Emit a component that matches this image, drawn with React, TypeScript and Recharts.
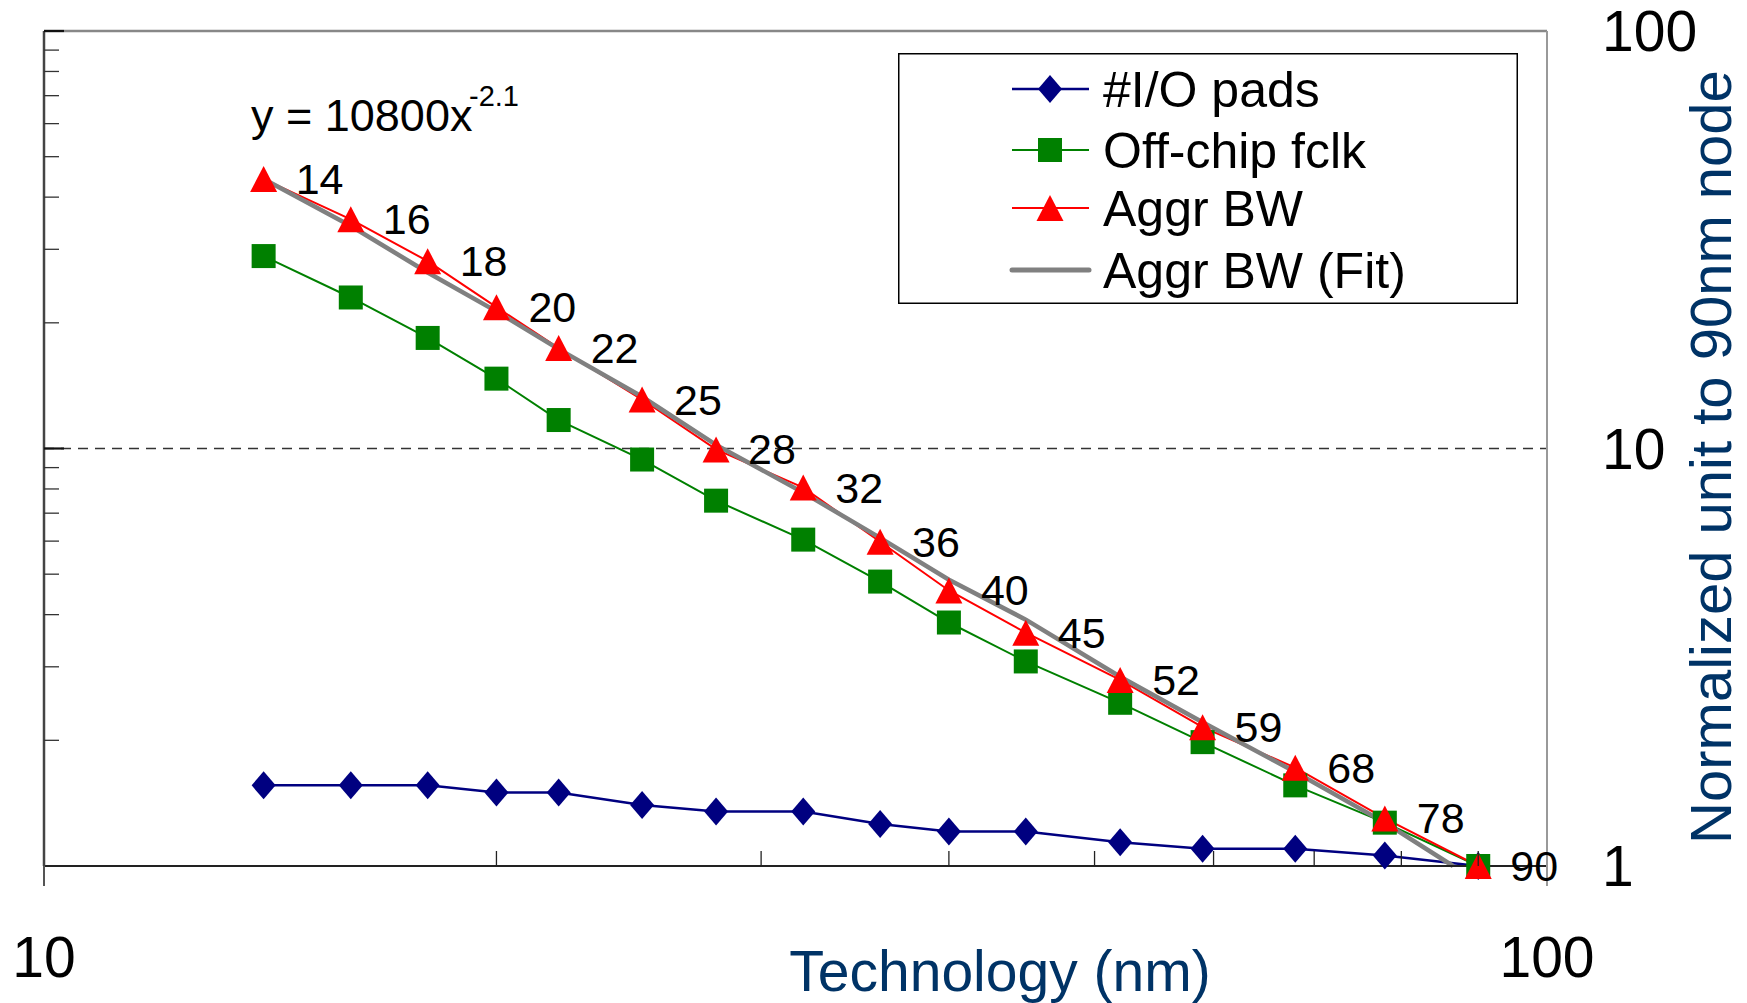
import { Legend, Line, LineChart, LabelList, ReferenceLine, XAxis, YAxis } from "recharts";

const FONT = "'Liberation Sans', Arial, Helvetica, sans-serif";

// technology nodes (nm)
const NODES = [14, 16, 18, 20, 22, 25, 28, 32, 36, 40, 45, 52, 59, 68, 78, 90];
const IO_PADS = [1.56, 1.56, 1.56, 1.5, 1.5, 1.4, 1.35, 1.35, 1.26, 1.21, 1.21, 1.14, 1.1, 1.1, 1.06, 1.0];
const OFFCHIP_FCLK = [28.9, 23.0, 18.4, 14.7, 11.7, 9.41, 7.5, 6.05, 4.8, 3.83, 3.09, 2.46, 1.98, 1.56, 1.27, 1.0];
const AGGR_BW = [44.2, 35.4, 28.1, 21.8, 17.4, 13.1, 9.95, 8.06, 5.98, 4.57, 3.62, 2.79, 2.15, 1.72, 1.3, 1.0];

// trend line (ends where it meets the bottom axis)
const FIT_NODES = [14, 16, 18, 20, 22, 25, 28, 32, 36, 40, 45, 52, 59, 68, 78, 86.6];
const AGGR_BW_FIT = [44.2, 34.1, 26.4, 21.3, 17.3, 13.3, 10.2, 7.84, 6.11, 4.85, 3.89, 2.84, 2.21, 1.68, 1.27, 1.0];

const X_TICKS = [10, 20, 30, 40, 50, 60, 70, 80, 90, 100];
const Y_TICKS = [1, 2, 3, 4, 5, 6, 7, 8, 9, 10, 20, 30, 40, 50, 60, 70, 80, 90, 100];
const Y_LABELS = [1, 10, 100];

const SERIES = [
  { key: "io", name: "#I/O pads", color: "#000080", marker: "diamond", width: 2.5 },
  { key: "fclk", name: "Off-chip fclk", color: "#008000", marker: "square", width: 2 },
  { key: "bw", name: "Aggr BW", color: "#FF0000", marker: "triangle", width: 2 },
  { key: "fit", name: "Aggr BW (Fit)", color: "#808080", marker: "none", width: 4.5 },
];

const rows = NODES.map((node, i) => ({
  node,
  io: IO_PADS[i],
  fclk: OFFCHIP_FCLK[i],
  bw: AGGR_BW[i],
}));

const fitRows = FIT_NODES.map((node, i) => ({ node, fit: AGGR_BW_FIT[i] }));

function Marker({ kind, cx, cy, color }: { kind: string; cx: number; cy: number; color: string }) {
  if (kind === "diamond") {
    return <polygon points={`${cx},${cy - 14} ${cx + 12},${cy} ${cx},${cy + 14} ${cx - 12},${cy}`} fill={color} />;
  }
  if (kind === "square") {
    return <rect x={cx - 12} y={cy - 12} width={24} height={24} fill={color} />;
  }
  if (kind === "triangle") {
    return <polygon points={`${cx},${cy - 13} ${cx + 13.5},${cy + 13} ${cx - 13.5},${cy + 13}`} fill={color} />;
  }
  return null;
}

const XTick = (props: any) => {
  const { x, y, payload } = props;
  const v = payload.value;
  if (v === 10 || v === 100) {
    return (
      <g>
        <line x1={x} x2={x} y1={y} y2={y + 20} stroke={v === 10 ? "#555" : "#999"} strokeWidth={2} />
        <text x={x} y={y + 111} textAnchor="middle" fontSize={57} fontFamily={FONT} fill="#000">
          {v}
        </text>
      </g>
    );
  }
  return <line x1={x} x2={x} y1={y} y2={y - 15} stroke="#222" strokeWidth={1.3} />;
};

const LeftTick = (props: any) => {
  const { x, y, payload } = props;
  const v = payload.value;
  if (v === 1) return <g />;
  const major = v === 10 || v === 100;
  return <line x1={x} x2={x + (major ? 20 : 15)} y1={y} y2={y} stroke={major ? "#111" : "#333"} strokeWidth={major ? 2.2 : 1.3} />;
};

const RightTick = (props: any) => {
  const { x, y, payload } = props;
  return (
    <text x={x + 55} y={y + 20} textAnchor="start" fontSize={57} fontFamily={FONT} fill="#000">
      {payload.value}
    </text>
  );
};

const LegendBox = (props: any) => {
  const items = [...(props.payload || [])].sort(
    (a: any, b: any) => SERIES.findIndex((s) => s.name === a.value) - SERIES.findIndex((s) => s.name === b.value)
  );
  const rowY = [36, 97, 155, 217];
  return (
    <svg width={620} height={251} style={{ display: "block" }}>
      <rect x={0.75} y={0.75} width={618.5} height={249.5} fill="#fff" stroke="#000" strokeWidth={1.5} />
      {items.map((item: any, i: number) => {
        const s = SERIES.find((d) => d.name === item.value)!;
        const cy = rowY[i];
        return (
          <g key={s.key}>
            <line x1={114} x2={191} y1={cy} y2={cy} stroke={s.color} strokeWidth={s.marker === "none" ? 5 : s.width} strokeLinecap={s.marker === "none" ? "round" : "butt"} />
            <Marker kind={s.marker} cx={152} cy={cy} color={s.color} />
            <text x={205} y={cy + 18} fontSize={50} fontFamily={FONT} fill="#000">
              {s.name}
            </text>
          </g>
        );
      })}
    </svg>
  );
};

export default function App() {
  return (
    <div style={{ position: "relative", width: 1747, height: 1003, background: "#fff" }}>
      <style>{"body{margin:0}"}</style>
      <LineChart width={1747} height={1003} data={rows} margin={{ top: 31, right: 0, bottom: 0, left: 0 }}>
        <XAxis
          dataKey="node"
          type="number"
          scale="log"
          domain={[10, 100]}
          ticks={X_TICKS}
          interval={0}
          height={137}
          tickSize={0}
          tickMargin={0}
          tickLine={false}
          tick={<XTick />}
          axisLine={{ stroke: "#222", strokeWidth: 2 }}
        />
        <YAxis
          yAxisId="left"
          type="number"
          scale="log"
          domain={[1, 100]}
          ticks={Y_TICKS}
          interval={0}
          width={44}
          tickSize={0}
          tickMargin={0}
          tickLine={false}
          tick={<LeftTick />}
          axisLine={{ stroke: "#444", strokeWidth: 2.5 }}
        />
        <YAxis
          yAxisId="right"
          orientation="right"
          type="number"
          scale="log"
          domain={[1, 100]}
          ticks={Y_LABELS}
          interval={0}
          width={200}
          tickSize={0}
          tickMargin={0}
          tickLine={false}
          tick={<RightTick />}
          axisLine={{ stroke: "#999", strokeWidth: 2 }}
        />
        <ReferenceLine yAxisId="left" y={10} stroke="#333" strokeWidth={1.3} strokeDasharray="10 7" />
        <ReferenceLine yAxisId="left" y={100} stroke="#888" strokeWidth={2.5} />
        <Legend
          layout="vertical"
          align="center"
          verticalAlign="middle"
          content={<LegendBox />}
          wrapperStyle={{ left: 898, top: 53, width: 620, height: 251 }}
        />
        {SERIES.slice(0, 3).map((s) => (
          <Line
            key={s.key}
            yAxisId="left"
            dataKey={s.key}
            name={s.name}
            stroke={s.color}
            strokeWidth={s.width}
            isAnimationActive={false}
            activeDot={false}
            dot={(p: any) => <Marker key={`${s.key}-${p.index}`} kind={s.marker} cx={p.cx} cy={p.cy} color={s.color} />}
          >
            {s.key === "bw" && (
              <LabelList
                dataKey="node"
                content={(p: any) => (
                  <text x={p.x + 32} y={p.y + 15} fontSize={43} fontFamily={FONT} fill="#000">
                    {p.value}
                  </text>
                )}
              />
            )}
          </Line>
        ))}
        {/* the fit line sits on the right axis (same log 1–100 scale) so that axis has data */}
        <Line
          yAxisId="right"
          data={fitRows}
          dataKey="fit"
          name={SERIES[3].name}
          stroke={SERIES[3].color}
          strokeWidth={SERIES[3].width}
          dot={false}
          activeDot={false}
          isAnimationActive={false}
        />
      </LineChart>
      <svg
        width={1747}
        height={1003}
        style={{ position: "absolute", left: 0, top: 0, pointerEvents: "none" }}
        fontFamily={FONT}
      >
        <text x={251} y={131} fontSize={45} fill="#000">
          y = 10800x
          <tspan x={469} y={106} fontSize={29}>
            -2.1
          </tspan>
        </text>
        <text x={1000} y={991} textAnchor="middle" fontSize={57} fill="#003366">
          Technology (nm)
        </text>
        <text transform="translate(1731,457) rotate(-90)" textAnchor="middle" fontSize={58} fill="#003366">
          Normalized unit to 90nm node
        </text>
      </svg>
    </div>
  );
}
